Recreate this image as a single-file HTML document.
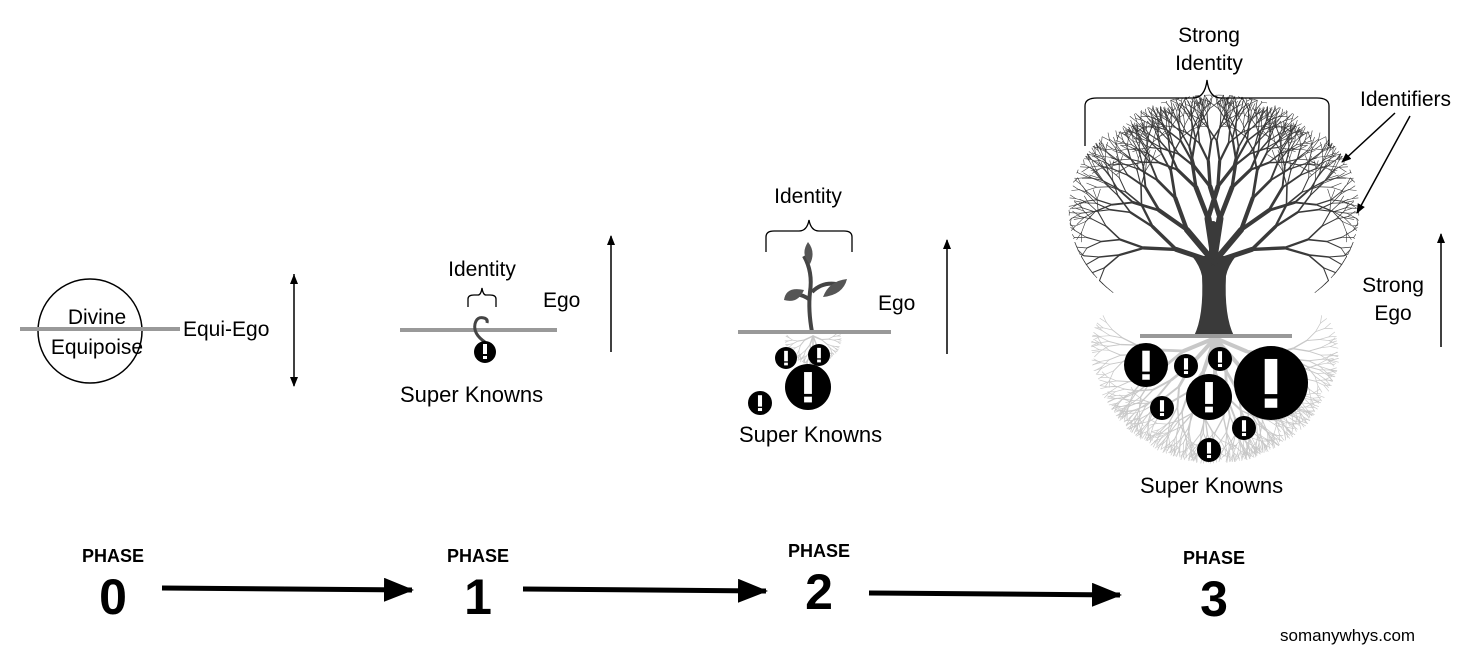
<!DOCTYPE html>
<html><head><meta charset="utf-8"><style>
html,body{margin:0;padding:0;background:#fff}
svg{display:block}
text{font-family:"Liberation Sans",Arial,Helvetica,sans-serif;fill:#000}
</style></head><body>
<svg id="s" width="1482" height="654" viewBox="0 0 1482 654" xmlns="http://www.w3.org/2000/svg" font-family="Liberation Sans, Arial, sans-serif">
<defs>
<marker id="ah" markerWidth="10" markerHeight="10" refX="9" refY="5" orient="auto" markerUnits="userSpaceOnUse"><path d="M0,1 L10,5 L0,9 z" fill="#000"/></marker>
<marker id="as" markerWidth="10" markerHeight="10" refX="0" refY="5" orient="auto" markerUnits="userSpaceOnUse"><path d="M10,1 L0,5 L10,9 z" fill="#000"/></marker>
<marker id="big" markerWidth="30" markerHeight="24" refX="28" refY="12" orient="auto" markerUnits="userSpaceOnUse"><path d="M0,0 L30,12 L0,24 z" fill="#000"/></marker>
</defs>
<g id="roots" stroke="#c8c8c8" fill="none" stroke-linecap="round"></g>
<g id="tree" stroke="#3a3a3a" fill="none" stroke-linecap="round"></g>

<!-- Phase 0 -->
<circle cx="90" cy="331" r="52" fill="#fff" stroke="#000" stroke-width="1.5"/>
<line x1="20" y1="329" x2="180" y2="329" stroke="#999" stroke-width="4"/>
<text x="97" y="324" font-size="21" text-anchor="middle">Divine</text>
<text x="97" y="354" font-size="21" text-anchor="middle">Equipoise</text>
<text x="183" y="336" font-size="21">Equi-Ego</text>
<line x1="294" y1="274" x2="294" y2="386" stroke="#000" stroke-width="1.5" marker-end="url(#ah)" marker-start="url(#as)"/>

<!-- Phase 1 -->
<text x="482" y="276" font-size="21" text-anchor="middle">Identity</text>
<path d="M468,307 v-8 q0,-4 6,-4 h4 q3,0 4,-7 q1,7 4,7 h4 q6,0 6,4 v8" stroke="#000" fill="none" stroke-width="1.3"/>
<line x1="400" y1="330" x2="557" y2="330" stroke="#999" stroke-width="4"/>
<path d="M485,342 q-12,-8 -10,-18 q2,-8 9,-6 q4,1 3,5" stroke="#444" stroke-width="3" fill="none"/>
<circle cx="485" cy="352" r="11" fill="#000"/>
<rect x="483" y="344" width="4" height="10" fill="#fff"/><rect x="483" y="356" width="4" height="3" fill="#fff"/>
<text x="400" y="402" font-size="22">Super Knowns</text>
<text x="543" y="307" font-size="21">Ego</text>
<line x1="611" y1="352" x2="611" y2="236" stroke="#000" stroke-width="1.5" marker-end="url(#ah)"/>

<!-- Phase 2 -->
<text x="808" y="203" font-size="21" text-anchor="middle">Identity</text>
<path d="M766,252 v-15 q0,-6 8,-6 h25 q8,0 10,-11 q2,11 10,11 h25 q8,0 8,6 v15" stroke="#000" fill="none" stroke-width="1.3"/>
<path d="M812,332 q-4,-22 -2,-40 q3,-20 -6,-36 M810,300 q-10,-8 -20,-4 M812,292 q10,-10 24,-8" stroke="#444" stroke-width="4" fill="none"/>
<path d="M784,300 q2,-14 20,-10 q-6,14 -20,10z M823,297 q6,-16 24,-18 q-4,16 -24,18z M810,264 q-10,-10 -2,-22 q8,10 2,22z" fill="#555"/>
<line x1="738" y1="332" x2="891" y2="332" stroke="#999" stroke-width="4"/>
<text x="878" y="310" font-size="21">Ego</text>
<line x1="947" y1="354" x2="947" y2="240" stroke="#000" stroke-width="1.5" marker-end="url(#ah)"/>
<text x="739" y="442" font-size="22">Super Knowns</text>

<!-- Phase 3 -->
<text x="1209" y="42" font-size="21" text-anchor="middle">Strong</text>
<text x="1209" y="70" font-size="21" text-anchor="middle">Identity</text>
<path d="M1085,146 v-40 q0,-8 12,-8 h96 q12,0 14,-18 q2,18 14,18 h96 q12,0 12,8 v40" stroke="#000" fill="none" stroke-width="1.3"/>
<text x="1360" y="106" font-size="21">Identifiers</text>
<line x1="1395" y1="113" x2="1342" y2="162" stroke="#000" stroke-width="1.5" marker-end="url(#ah)"/>
<line x1="1410" y1="116" x2="1357" y2="213" stroke="#000" stroke-width="1.5" marker-end="url(#ah)"/>
<text x="1393" y="292" font-size="21" text-anchor="middle">Strong</text>
<text x="1393" y="320" font-size="21" text-anchor="middle">Ego</text>
<line x1="1441" y1="347" x2="1441" y2="234" stroke="#000" stroke-width="1.5" marker-end="url(#ah)"/>
<line x1="1140" y1="336" x2="1292" y2="336" stroke="#999" stroke-width="4"/>
<text x="1140" y="493" font-size="22">Super Knowns</text>
<g id="circles"></g>

<!-- phases -->
<g font-weight="bold" text-anchor="middle">
<text x="113" y="562" font-size="18">PHASE</text><text x="113" y="614" font-size="50">0</text>
<text x="478" y="562" font-size="18">PHASE</text><text x="478" y="614" font-size="50">1</text>
<text x="819" y="557" font-size="18">PHASE</text><text x="819" y="609" font-size="50">2</text>
<text x="1214" y="564" font-size="18">PHASE</text><text x="1214" y="616" font-size="50">3</text>
</g>
<line x1="162" y1="588" x2="412" y2="590" stroke="#000" stroke-width="5" marker-end="url(#big)"/>
<line x1="523" y1="589" x2="766" y2="591" stroke="#000" stroke-width="5" marker-end="url(#big)"/>
<line x1="869" y1="593" x2="1120" y2="595" stroke="#000" stroke-width="5" marker-end="url(#big)"/>
<text x="1280" y="641" font-size="17">somanywhys.com</text>
</svg>
<script>
var NS="http://www.w3.org/2000/svg";
var seed=7;function rnd(){seed=(seed*16807)%2147483647;return (seed-1)/2147483646;}
function ln(g,x1,y1,x2,y2,w){var l=document.createElementNS(NS,"line");l.setAttribute("x1",x1);l.setAttribute("y1",y1);l.setAttribute("x2",x2);l.setAttribute("y2",y2);l.setAttribute("stroke-width",w);g.appendChild(l);}
var tree=document.getElementById("tree");
var tr=document.createElementNS(NS,"path");tr.setAttribute("d","M1194,336 q10,-20 8,-60 q-2,-10 -10,-20 l44,0 q-8,10 -10,20 q-2,40 8,60z");tr.setAttribute("fill","#3a3a3a");tr.setAttribute("stroke","none");tree.appendChild(tr);
var CX=1214;
function seg(x1,y1,x2,y2,w,m){ln(tree,x1,y1,x2,y2,w);if(m)ln(tree,2*CX-x1,y1,2*CX-x2,y2,w);}
function br(x,y,a,len,w,d,m){var x2=x+Math.cos(a)*len,y2=y-Math.sin(a)*len;
 var dx=(x2-CX)/145,dy=(y2-210)/115;if(dx*dx+dy*dy>1){var k=1/Math.sqrt(dx*dx+dy*dy);x2=CX+(x2-CX)*k;y2=210+(y2-210)*k;}
 if(y2>300)y2=300;
 seg(x,y,x2,y2,w,m);if(d>=7)return;
 for(var i=0;i<2;i++){var na=a+(i-0.5)*0.6+(rnd()-0.5)*0.3;
  br(x2,y2,na,len*(0.74+rnd()*0.1),Math.max(0.6,w*0.68),d+1,m);}}
seg(CX-1,262,CX-1,225,8,false);
br(CX,258,Math.PI/2+0.15,40,7,0,true);
br(CX,262,Math.PI/2+0.7,42,6,0,true);
br(CX,262,Math.PI/2+1.25,40,5,1,true);
var roots=document.getElementById("roots");
function rt(x,y,a,len,w,d){var x2=x+Math.cos(a)*len,y2=y+Math.sin(a)*len;ln(roots,x,y,x2,y2,w);if(d>=6)return;
 for(var i=0;i<2;i++){var na=a+(i-0.5)*0.6+(rnd()-0.5)*0.3;rt(x2,y2,na,len*0.78,Math.max(0.7,w*0.7),d+1);}}
[0.4,0.85,1.25,1.57,1.9,2.3,2.75].forEach(function(a){rt(1215,338,a,34,4,0);});
seed=99;[0.4,1.2,1.57,1.9,2.7].forEach(function(a){rt(813,336,a,9,1.5,2);});
var C=[[1146,365,22],[1186,366,12],[1220,359,12],[1271,383,37],[1209,397,23],[1162,408,12],[1244,428,12],[1209,450,12],[786,358,11],[819,355,11],[808,387,23],[760,403,12]];
var g=document.getElementById("circles");
C.forEach(function(c){var e=document.createElementNS(NS,"circle");e.setAttribute("cx",c[0]);e.setAttribute("cy",c[1]);e.setAttribute("r",c[2]);e.setAttribute("fill","#000");g.appendChild(e);
 var r=c[2],w=r*0.34,h=r*0.95;
 var a=document.createElementNS(NS,"rect");a.setAttribute("x",c[0]-w/2);a.setAttribute("y",c[1]-r*0.65);a.setAttribute("width",w);a.setAttribute("height",h);a.setAttribute("fill","#fff");g.appendChild(a);
 var b=document.createElementNS(NS,"rect");b.setAttribute("x",c[0]-w/2);b.setAttribute("y",c[1]+r*0.42);b.setAttribute("width",w);b.setAttribute("height",r*0.25);b.setAttribute("fill","#fff");g.appendChild(b);});
</script>
</body></html>
